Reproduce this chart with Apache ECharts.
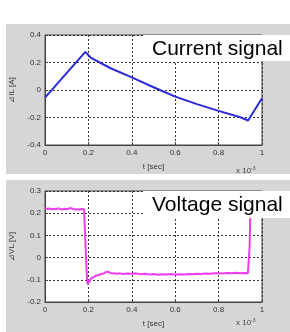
<!DOCTYPE html>
<html>
<head>
<meta charset="utf-8">
<script src="https://cdn.jsdelivr.net/npm/echarts@6/dist/echarts.min.js"></script>
<style>
  html, body { margin: 0; padding: 0; background: #fff; }
  #chart { width: 290px; height: 332px; }
</style>
</head>
<body>
<div id="chart"></div>
<script>
// current signal (t in ms x 10^-3 sec)
const tCurrent = [0, 0.186, 0.21, 0.3, 0.4, 0.5, 0.6, 0.7, 0.8, 0.9, 0.936, 1]
const iCurrent = [-0.055, 0.277, 0.236, 0.16, 0.092, 0.02, -0.048, -0.103, -0.152, -0.198, -0.222, -0.06]

// voltage signal
const tVoltage = [
  0, 0.01, 0.02, 0.03, 0.04, 0.05, 0.06, 0.07, 0.08, 0.09, 0.10, 0.11, 0.12, 0.13, 0.14, 0.15, 0.16, 0.17, 0.18, 0.186,
  0.19, 0.194, 0.197, 0.2, 0.204, 0.21, 0.22, 0.23, 0.24, 0.25, 0.26, 0.27, 0.28, 0.29, 0.30, 0.31, 0.32, 0.33, 0.34,
  0.36, 0.38, 0.40, 0.42, 0.44, 0.46, 0.48, 0.50, 0.52, 0.54, 0.56, 0.58, 0.60, 0.62, 0.64, 0.66, 0.68, 0.70,
  0.72, 0.74, 0.76, 0.78, 0.80, 0.82, 0.84, 0.86, 0.88, 0.90, 0.92, 0.935, 0.94, 0.943, 0.946, 0.95, 1
]
const vVoltage = [
  0.224, 0.219, 0.221, 0.217, 0.220, 0.218, 0.222, 0.219, 0.217, 0.220, 0.218, 0.221, 0.223, 0.219, 0.217, 0.218, 0.216, 0.219, 0.217, 0.216,
  -0.02, -0.105, -0.122, -0.1, -0.112, -0.095, -0.09, -0.084, -0.08, -0.077, -0.074, -0.071, -0.066, -0.063, -0.069, -0.072, -0.07, -0.073, -0.071,
  -0.074, -0.072, -0.073, -0.071, -0.075, -0.073, -0.076, -0.074, -0.077, -0.075, -0.076, -0.074, -0.077, -0.075, -0.076, -0.074, -0.075, -0.073,
  -0.074, -0.072, -0.073, -0.071, -0.070, -0.072, -0.069, -0.071, -0.068, -0.070, -0.069, -0.071, -0.068, 0.05, 0.2, 0.22, 0.22
]

const chart = echarts.init(document.getElementById('chart'), null, { renderer: 'canvas' })

const font = 'Liberation Sans, Arial, sans-serif'
const labelStyle = { fontSize: 8, color: '#333', fontFamily: font }
const fmt = v => (Math.abs(v) < 1e-9 ? '0' : String(Number(v.toFixed(1))))

const axisCommon = {
  type: 'value',
  nameLocation: 'middle',
  nameTextStyle: labelStyle,
  axisLine: { show: true, onZero: false, lineStyle: { color: '#444', width: 1 } },
  axisTick: { show: true, inside: true, length: 3, lineStyle: { color: '#444' } },
  axisLabel: { ...labelStyle, margin: 4, formatter: fmt },
  splitLine: { show: true, lineStyle: { color: '#333', type: [2, 2], width: 1 } }
}
const xAxisBase = { ...axisCommon, min: 0, max: 1, interval: 0.2, name: 't [sec]', nameGap: 18 }
const yAxisBase = { ...axisCommon, nameGap: 29 }

const box = (y, h, text) => [
  { type: 'rect', z: 100, silent: true, shape: { x: 143, y: y, width: 147, height: h }, style: { fill: '#fff' } },
  { type: 'text', z: 101, silent: true, x: 152, y: y + h / 2 + 1, style: { text: text, fill: '#000', font: '21px ' + font, textVerticalAlign: 'middle' } }
]
const scale = (x, y) => ({
  type: 'text', z: 50, x: x, y: y,
  style: { text: 'x 10{s|-3}', rich: { s: { fontSize: 5, verticalAlign: 'top', padding: [0, 0, 4, 0], fill: '#444' } }, fill: '#444', font: '8px ' + font }
})

chart.setOption({
  animation: false,
  backgroundColor: '#fff',
  graphic: [
    { type: 'rect', z: -10, silent: true, shape: { x: 6, y: 24, width: 284, height: 150 }, style: { fill: '#d6d6d6' } },
    { type: 'rect', z: -10, silent: true, shape: { x: 6, y: 180, width: 284, height: 152 }, style: { fill: '#d6d6d6' } },
    ...box(35, 26, 'Current signal'),
    ...box(191, 27, 'Voltage signal'),
    scale(236, 166),
    scale(236, 318)
  ],
  grid: [
    { left: 42, top: 35, width: 220, height: 110, show: true, backgroundColor: '#fff', borderColor: '#444', borderWidth: 1 },
    { left: 42, top: 191, width: 220, height: 111, show: true, backgroundColor: '#fff', borderColor: '#444', borderWidth: 1 }
  ],
  xAxis: [
    { ...xAxisBase, gridIndex: 0 },
    { ...xAxisBase, gridIndex: 1 }
  ],
  yAxis: [
    { ...yAxisBase, gridIndex: 0, min: -0.4, max: 0.4, interval: 0.2, name: '⊿IL [A]' },
    { ...yAxisBase, gridIndex: 1, min: -0.2, max: 0.3, interval: 0.1, name: '⊿VL [V]' }
  ],
  series: [
    {
      type: 'line', xAxisIndex: 0, yAxisIndex: 0,
      data: tCurrent.map((t, i) => [t, iCurrent[i]]),
      symbol: 'none', lineStyle: { color: '#2a2ad6', width: 2 }, clip: true
    },
    {
      type: 'line', xAxisIndex: 1, yAxisIndex: 1,
      data: tVoltage.map((t, i) => [t, vVoltage[i]]),
      symbol: 'none', lineStyle: { color: '#f03cf0', width: 2 }, clip: true
    }
  ]
})
</script>
</body>
</html>
